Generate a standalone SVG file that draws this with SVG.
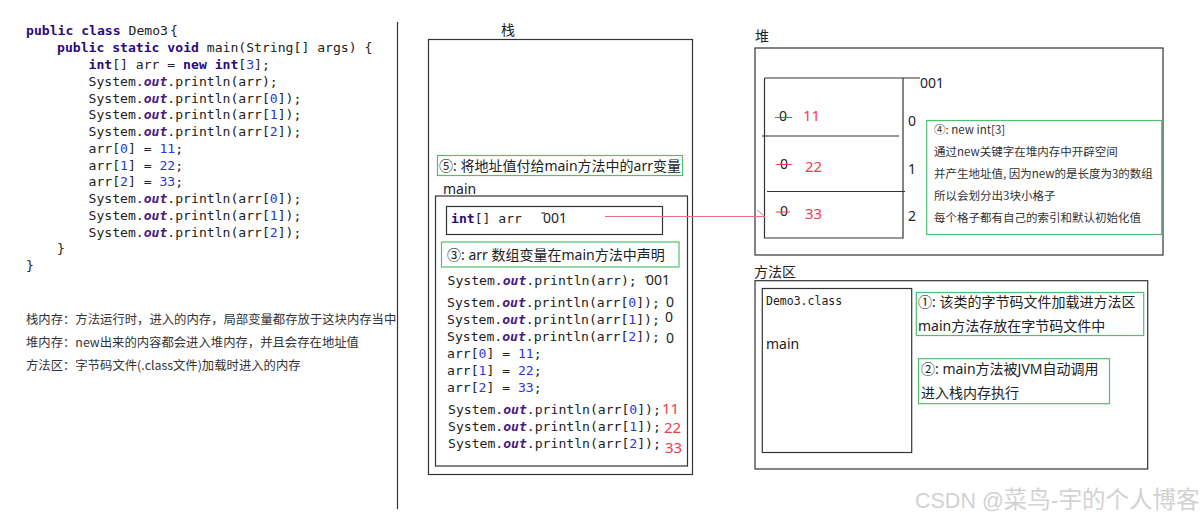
<svg xmlns="http://www.w3.org/2000/svg" width="1204" height="522" viewBox="0 0 1204 522">
<style>
text{white-space:pre}
.c{font-family:"DejaVu Sans Mono","Liberation Mono",monospace;font-size:13.100px;fill:#222}
.k{font-weight:bold;fill:#2a0a80}
.o{font-weight:bold;font-style:italic;fill:#4a1a80}
.n{fill:#2a35e0}
.t{font-family:"Noto Sans","Noto Sans CJK SC",sans-serif;font-size:14px;fill:#222}
.s{font-family:"Noto Sans CJK SC","Noto Sans",sans-serif;font-size:12.350px;fill:#333}
.s4{font-size:11.500px}
.r{fill:#f0404f;font-size:15px}
.b{fill:none;stroke:#333;stroke-width:1.2}
.g{fill:none;stroke:#4fc070;stroke-width:1.2}
.l{stroke:#333;stroke-width:1.2;fill:none}
.x{stroke:#f0404f;stroke-width:1;fill:none}
.a{stroke:#e87080;stroke-width:1;fill:none}
</style>
<g id="code">
<text class="c" x="26" y="35"><tspan class="k">public class</tspan> Demo3<tspan dx="2">{</tspan></text>
<text class="c" x="57" y="52"><tspan class="k">public static void</tspan> main(String[] args) {</text>
<text class="c" x="88.500" y="69"><tspan class="k">int</tspan>[] arr = <tspan class="k">new int</tspan>[<tspan class="n">3</tspan>];</text>
<text class="c" x="88.500" y="85.500">System.<tspan class="o">out</tspan>.println(arr);</text>
<text class="c" x="88.500" y="102.500">System.<tspan class="o">out</tspan>.println(arr[<tspan class="n">0</tspan>]);</text>
<text class="c" x="88.500" y="119">System.<tspan class="o">out</tspan>.println(arr[<tspan class="n">1</tspan>]);</text>
<text class="c" x="88.500" y="136">System.<tspan class="o">out</tspan>.println(arr[<tspan class="n">2</tspan>]);</text>
<text class="c" x="88.500" y="152.500">arr[<tspan class="n">0</tspan>] = <tspan class="n">11</tspan>;</text>
<text class="c" x="88.500" y="169.500">arr[<tspan class="n">1</tspan>] = <tspan class="n">22</tspan>;</text>
<text class="c" x="88.500" y="186">arr[<tspan class="n">2</tspan>] = <tspan class="n">33</tspan>;</text>
<text class="c" x="88.500" y="203">System.<tspan class="o">out</tspan>.println(arr[<tspan class="n">0</tspan>]);</text>
<text class="c" x="88.500" y="220">System.<tspan class="o">out</tspan>.println(arr[<tspan class="n">1</tspan>]);</text>
<text class="c" x="88.500" y="236.500">System.<tspan class="o">out</tspan>.println(arr[<tspan class="n">2</tspan>]);</text>
<text class="c" x="57" y="253">}</text>
<text class="c" x="26" y="270">}</text>
</g>
<g id="notes">
<text class="s" x="26" y="324">栈内存&#xFF1A;方法运行时&#xFF0C;进入的内存&#xFF0C;局部变量都存放于这块内存当中</text>
<text class="s" x="26" y="347">堆内存&#xFF1A;new出来的内容都会进入堆内存&#xFF0C;并且会存在地址值</text>
<text class="s" x="26" y="370">方法区&#xFF1A;字节码文件(.class文件)加载时进入的内存</text>
<path class="l" d="M397.500 22V509"/>
</g>
<g id="stack">
<rect class="b" x="428.500" y="39.500" width="264" height="435"/>
<text class="t" x="501" y="35">栈</text>
</g>
<g id="step5">
<rect class="g" x="437.500" y="155.500" width="245" height="20"/>
<text class="t" x="439" y="171">⑤: 将地址值付给main方法中的arr变量</text>
</g>
<g id="main-frame">
<text class="t" x="443" y="194">main</text>
<rect class="b" x="435.500" y="196" width="252" height="270"/>
</g>
<g id="arr-var">
<rect class="b" x="446.500" y="206.500" width="216" height="28"/>
<text class="c" x="451" y="223"><tspan class="k">int</tspan>[] arr</text>
<text class="t" x="543" y="223">001</text>
<path class="l" d="M541.500 213H545"/>
</g>
<g id="step3">
<rect class="g" x="441.500" y="242" width="237.500" height="25"/>
<text class="t" x="447" y="260">③: arr 数组变量在main方法中声明</text>
</g>
<g id="stack-code">
<text class="c" x="447.500" y="285">System.<tspan class="o">out</tspan>.println(arr);</text>
<text class="t" x="646" y="285">001</text>
<path class="l" d="M645 277H648.500"/>
<text class="c" x="447" y="307">System.<tspan class="o">out</tspan>.println(arr[<tspan class="n">0</tspan>]);</text>
<text class="t" x="666" y="307">0</text>
<text class="c" x="447" y="324">System.<tspan class="o">out</tspan>.println(arr[<tspan class="n">1</tspan>]);</text>
<text class="t" x="665" y="322">0</text>
<text class="c" x="447" y="341">System.<tspan class="o">out</tspan>.println(arr[<tspan class="n">2</tspan>]);</text>
<text class="t" x="666" y="343">0</text>
<text class="c" x="447" y="358">arr[<tspan class="n">0</tspan>] = <tspan class="n">11</tspan>;</text>
<text class="c" x="447" y="375">arr[<tspan class="n">1</tspan>] = <tspan class="n">22</tspan>;</text>
<text class="c" x="447" y="392">arr[<tspan class="n">2</tspan>] = <tspan class="n">33</tspan>;</text>
<text class="c" x="448" y="414">System.<tspan class="o">out</tspan>.println(arr[<tspan class="n">0</tspan>]);</text>
<text class="t r" x="662" y="414">11</text>
<text class="c" x="448" y="431">System.<tspan class="o">out</tspan>.println(arr[<tspan class="n">1</tspan>]);</text>
<text class="t r" x="664" y="433">22</text>
<text class="c" x="448" y="448">System.<tspan class="o">out</tspan>.println(arr[<tspan class="n">2</tspan>]);</text>
<text class="t r" x="665" y="453">33</text>
</g>
<g id="heap">
<rect class="b" x="755" y="48" width="408" height="207"/>
<text class="t" x="755" y="41">堆</text>
</g>
<g id="array">
<path class="l" d="M764.500 78H920M764.500 78V238H903V78M762 136H899M767 191.500H905"/>
<text class="t" x="920" y="88">001</text>
<text class="t" x="779" y="121">0</text>
<text class="t" x="780" y="169">0</text>
<text class="t" x="780" y="216">0</text>
<path class="x" d="M775 117.500H792M776 164.500H792M776 212H790"/>
<text class="t r" x="803" y="121">11</text>
<text class="t r" x="805" y="172">22</text>
<text class="t r" x="805" y="219">33</text>
<text class="t" x="908" y="126">0</text>
<text class="t" x="908" y="174">1</text>
<text class="t" x="908" y="221">2</text>
</g>
<g id="step4">
<rect class="g" x="926.700" y="120.500" width="235" height="114"/>
<text class="s s4" x="934" y="134">④: new int[3]</text>
<text class="s s4" x="934" y="156">通过new关键字在堆内存中开辟空间</text>
<text class="s s4" x="934" y="178">并产生地址值, 因为new的是长度为3的数组</text>
<text class="s s4" x="934" y="200">所以会划分出3块小格子</text>
<text class="s s4" x="934" y="222">每个格子都有自己的索引和默认初始化值</text>
</g>
<g id="method-area">
<rect class="b" x="755" y="280.700" width="392.700" height="188.300"/>
<text class="t" x="754" y="277">方法区</text>
</g>
<g id="class-box">
<rect class="b" x="762.300" y="288.500" width="149.400" height="164"/>
<text class="c" style="font-size:11.500px" x="766" y="305">Demo3.class</text>
<text class="t" x="766" y="349">main</text>
</g>
<g id="step1">
<rect class="g" x="916.300" y="292.500" width="227.400" height="43"/>
<text class="t" x="918" y="307">①: 该类的字节码文件加载进方法区</text>
<text class="t" x="918" y="331">main方法存放在字节码文件中</text>
</g>
<g id="step2">
<rect class="g" x="918.500" y="358.700" width="191" height="45"/>
<text class="t" x="921" y="374">②: main方法被JVM自动调用</text>
<text class="t" x="921" y="398">进入栈内存执行</text>
</g>
<g id="connectors">
<path class="a" d="M605 216.500H765M757 210L765 216.500"/>
</g>
<g id="watermark">
<text x="915" y="508" style="font-family:'Liberation Sans','Noto Sans CJK SC',sans-serif;font-size:21.500px;fill:#d2d2d2">CSDN @<tspan style="font-size:23.500px">菜鸟-宇的个人博客</tspan></text>
</g>
</svg>
